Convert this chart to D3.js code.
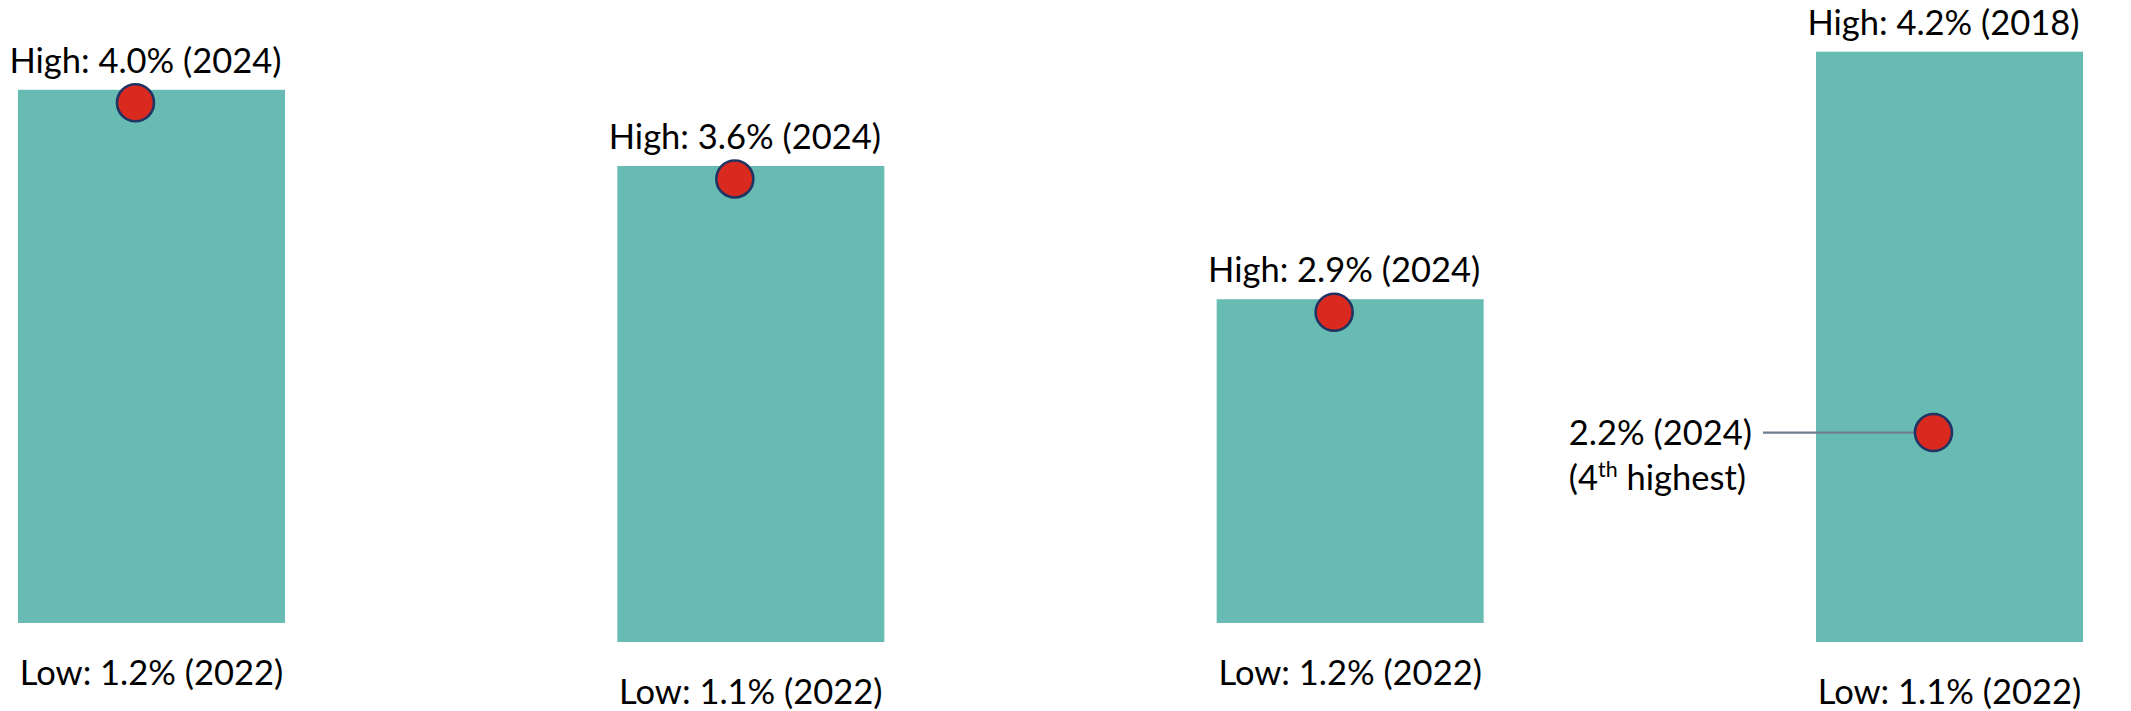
<!DOCTYPE html>
<html>
<head>
<meta charset="utf-8">
<script src="https://cdn.jsdelivr.net/npm/d3@7/dist/d3.min.js"></script>
<style>
  html, body { margin: 0; padding: 0; background: #ffffff; }
  svg { display: block; }
  text { font-family: Lato, "Open Sans", sans-serif; fill: #000; }
</style>
</head>
<body>
<svg id="chart" width="2131" height="711"></svg>
<script>
// Range of each indicator: lowest and highest value, with the 2024 reading
const categories = ["A", "B", "C", "D"];
const lowValues  = [1.2, 1.1, 1.2, 1.1];
const lowYears   = ["2022", "2022", "2022", "2022"];
const highValues = [4.0, 3.6, 2.9, 4.2];
const highYears  = ["2024", "2024", "2024", "2018"];
const currentValues = [4.0, 3.6, 2.9, 2.2];
const currentYear = "2024";
// 2024 is the high for the first three; the last one gets a callout with its rank
const currentRanks = [null, null, null, 4];

const svg = d3.select("#chart");

const x = d3.scaleBand()
  .domain(categories)
  .range([18, 2083])
  .paddingInner(0.5545)
  .paddingOuter(0);

const y = d3.scaleLinear()
  .domain([1.1, 4.2])
  .range([642, 51.7]);

const rows = categories.map((c, i) => ({
  cat: c,
  low: lowValues[i], lowYear: lowYears[i],
  high: highValues[i], highYear: highYears[i],
  current: currentValues[i], rank: currentRanks[i]
}));

const FONT = 34.5;
const dotR = 18.5;
const inset = 13;   // keep a dot sitting on the top edge inside the bar

// range bars
svg.selectAll("rect.range")
  .data(rows)
  .join("rect")
  .attr("class", "range")
  .attr("x", d => x(d.cat))
  .attr("width", x.bandwidth())
  .attr("y", d => y(d.high))
  .attr("height", d => y(d.low) - y(d.high))
  .attr("fill", "#67BBB3");

// high labels
svg.selectAll("text.high")
  .data(rows)
  .join("text")
  .attr("class", "high")
  .attr("x", d => x(d.cat) + x.bandwidth() / 2 - 6)
  .attr("y", d => y(d.high) - 17)
  .attr("text-anchor", "middle")
  .style("font-size", FONT + "px")
  .text(d => `High: ${d.high.toFixed(1)}% (${d.highYear})`);

// low labels
svg.selectAll("text.low")
  .data(rows)
  .join("text")
  .attr("class", "low")
  .attr("x", d => x(d.cat) + x.bandwidth() / 2)
  .attr("y", d => y(d.low) + 62)
  .attr("text-anchor", "middle")
  .style("font-size", FONT + "px")
  .text(d => `Low: ${d.low.toFixed(1)}% (${d.lowYear})`);

const cx = d => x(d.cat) + x.bandwidth() * 0.44;
const cy = d => Math.max(y(d.current), y(d.high) + inset);

// callout for a current value below the high
const noted = rows.filter(d => d.rank !== null);
svg.selectAll("line.callout")
  .data(noted)
  .join("line")
  .attr("class", "callout")
  .attr("x1", d => x(d.cat) - 53)
  .attr("x2", d => cx(d))
  .attr("y1", d => cy(d))
  .attr("y2", d => cy(d))
  .attr("stroke", "#6E7F8F")
  .attr("stroke-width", 2.2);

const noteX = d => x(d.cat) - 64;

noted.forEach(d => {
  const g = svg.append("g").attr("class", "note");
  const line1 = g.append("text")
    .attr("x", noteX(d))
    .attr("y", cy(d) + 12)
    .attr("text-anchor", "end")
    .style("font-size", FONT + "px")
    .text(`${d.current.toFixed(1)}% (${currentYear})`);

  // second line: "(4th highest)" with a raised ordinal suffix
  const by = cy(d) + 57;
  const parts = [
    { t: "(" + d.rank, size: FONT, dy: 0 },
    { t: "th", size: FONT * 0.62, dy: -13 },
    { t: "\u00a0highest", size: FONT, dy: 0 },
    { t: ")", size: FONT, dy: 0 }
  ];
  let px = line1.node().getBBox().x;
  parts.forEach(p => {
    const t = g.append("text")
      .attr("x", px)
      .attr("y", by + p.dy)
      .style("font-size", p.size + "px")
      .text(p.t);
    px += t.node().getComputedTextLength();
  });
});

// 2024 markers
svg.selectAll("circle.current")
  .data(rows)
  .join("circle")
  .attr("class", "current")
  .attr("cx", d => cx(d))
  .attr("cy", d => cy(d))
  .attr("r", dotR)
  .attr("fill", "#DA291F")
  .attr("stroke", "#1F3463")
  .attr("stroke-width", 2.6);
</script>
</body>
</html>
